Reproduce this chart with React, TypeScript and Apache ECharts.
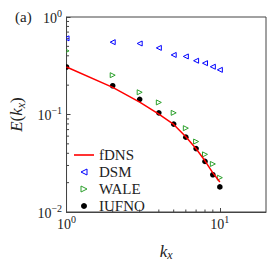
import React, { useEffect, useRef } from 'react';
import * as echarts from 'echarts';

// wavenumbers
const kx = [1, 2, 3, 4, 5, 6, 7, 8, 9, 10];
// spectra E(kx)
const fDNS = [0.307, 0.19, 0.134, 0.101, 0.079, 0.059, 0.0445, 0.0335, 0.0252, 0.0203];
const DSM = [0.604, 0.552, 0.535, 0.482, 0.408, 0.394, 0.356, 0.336, 0.309, 0.287];
const WALE = [0.449, 0.253, 0.169, 0.133, 0.104, 0.0724, 0.0528, 0.039, 0.0311, 0.0225];
const IUFNO = [0.307, 0.197, 0.143, 0.104, 0.0798, 0.0586, 0.0447, 0.033, 0.0241, 0.0181];
// minor tick values
const xMinorTicks = [2, 3, 4, 5, 6, 7, 8, 9];
const yMinorTicks = [0.02, 0.03, 0.04, 0.05, 0.06, 0.07, 0.08, 0.09, 0.2, 0.3, 0.4, 0.5, 0.6, 0.7, 0.8, 0.9];

const FONT = 'Liberation Serif';
const AXIS = '#444';
const RED = '#ff0000';
const BLUE = '#0000ff';
const GREEN = '#2ca02c';

const powLabel = (v: number) => {
  const e = Math.log10(v);
  const r = Math.round(e);
  if (Math.abs(e - r) > 1e-6) return '';
  return `{b|10}{s|${r < 0 ? '\u2212' + -r : r}}`;
};

const labelRich = {
  b: { fontFamily: FONT, fontSize: 14, color: '#222', padding: [2, 0, 0, 0] },
  s: { fontFamily: FONT, fontSize: 10, color: '#222', padding: [0, 0, 8, 0] },
};

const nameRich = {
  i: { fontFamily: FONT, fontSize: 17, fontStyle: 'italic', color: '#222' },
  n: { fontFamily: FONT, fontSize: 17, color: '#222' },
  s: { fontFamily: FONT, fontSize: 12, fontStyle: 'italic', color: '#222', padding: [8, 0, 0, 0] },
};

const markerSeries = (name: string, ys: number[], kind: 'left' | 'right' | 'dot', color: string) => ({
  type: 'custom',
  name,
  clip: true,
  coordinateSystem: 'cartesian2d',
  encode: { x: 0, y: 1 },
  itemStyle: { color },
  data: kx.map((k, i) => [k, ys[i]]),
  renderItem: (_p: any, api: any) => {
    const c = api.coord([api.value(0), api.value(1)]);
    const cx = c[0];
    const cy = c[1];
    if (kind === 'dot') {
      return { type: 'circle', shape: { cx, cy, r: 2.8 }, style: { fill: color } };
    }
    const h = 2.5;
    const d = kind === 'left' ? -1 : 1;
    return {
      type: 'polygon',
      shape: { points: [[cx + d * h, cy], [cx - d * h, cy - h], [cx - d * h, cy + h]] },
      style: { fill: 'none', stroke: color, lineWidth: 1 },
    };
  },
});

const tickSeries = (name: string, vals: number[], axis: 'x' | 'y') => ({
  type: 'custom',
  name,
  clip: false,
  silent: true,
  coordinateSystem: 'cartesian2d',
  encode: { x: 0, y: 1 },
  data: vals.map((v) => (axis === 'x' ? [v, 0.01] : [1, v])),
  renderItem: (_p: any, api: any) => {
    const c = api.coord([api.value(0), api.value(1)]);
    const shape =
      axis === 'x'
        ? { x1: c[0], y1: c[1], x2: c[0], y2: c[1] - 2.5 }
        : { x1: c[0], y1: c[1], x2: c[0] + 2.5, y2: c[1] };
    return { type: 'line', shape, style: { stroke: AXIS, lineWidth: 1 } };
  },
});

export default function App() {
  const ref = useRef<HTMLDivElement>(null);
  useEffect(() => {
    if (!ref.current) return;
    const chart = echarts.init(ref.current, undefined, { renderer: 'svg' });
    chart.setOption({
      animation: false,
      backgroundColor: '#fff',
      title: {
        text: '(a)',
        left: 10,
        top: 4,
        textStyle: { fontFamily: FONT, fontSize: 15, fontWeight: 'normal', color: '#222' },
      },
      grid: { left: 61, right: 6, top: 17, bottom: 45, show: true, borderColor: AXIS, borderWidth: 1, containLabel: false },
      legend: {
        orient: 'vertical',
        left: 69,
        top: 142,
        itemWidth: 20,
        itemHeight: 6,
        itemGap: 1,
        textStyle: { fontFamily: FONT, fontSize: 15, color: '#222', lineHeight: 16 },
        data: [
          {
            name: 'fDNS',
            icon: 'path://M0,0 L20,0 L20,1.6 L0,1.6 Z',
            itemStyle: { color: RED, borderWidth: 0 },
          },
          {
            name: 'DSM',
            icon: 'path://M10,0 L0,5 L10,10 Z',
            itemStyle: { color: 'rgba(0,0,0,0)', borderColor: BLUE, borderWidth: 1 },
          },
          {
            name: 'WALE',
            icon: 'path://M0,0 L10,5 L0,10 Z',
            itemStyle: { color: 'rgba(0,0,0,0)', borderColor: GREEN, borderWidth: 1 },
          },
          { name: 'IUFNO', icon: 'circle', itemStyle: { color: '#000', borderWidth: 0 } },
        ],
      },
      xAxis: {
        type: 'log',
        logBase: 10,
        min: 1,
        max: 20,
        name: '{i|k}{s|x}',
        nameLocation: 'middle',
        nameGap: 29,
        nameTextStyle: { rich: nameRich },
        axisLine: { show: true, lineStyle: { color: AXIS, width: 1 } },
        axisTick: { show: true, inside: true, length: 4, lineStyle: { color: AXIS } },
        axisLabel: { formatter: powLabel, rich: labelRich, margin: 2, showMaxLabel: false },
        splitLine: { show: false },
      },
      yAxis: {
        type: 'log',
        logBase: 10,
        min: 0.01,
        max: 1,
        name: '{i|E}{n|(}{i|k}{s|x}{n|)}',
        nameLocation: 'middle',
        nameGap: 38,
        nameTextStyle: { rich: nameRich },
        axisLine: { show: true, lineStyle: { color: AXIS, width: 1 } },
        axisTick: { show: true, inside: true, length: 4, lineStyle: { color: AXIS } },
        axisLabel: { formatter: powLabel, rich: labelRich, margin: 4.5 },
        splitLine: { show: false },
      },
      series: [
        tickSeries('xminor', xMinorTicks, 'x'),
        tickSeries('yminor', yMinorTicks, 'y'),
        {
          type: 'line',
          name: 'fDNS',
          data: kx.map((k, i) => [k, fDNS[i]]),
          symbol: 'none',
          showSymbol: false,
          lineStyle: { color: RED, width: 1.5 },
          itemStyle: { color: RED },
        },
        markerSeries('DSM', DSM, 'left', BLUE),
        markerSeries('WALE', WALE, 'right', GREEN),
        markerSeries('IUFNO', IUFNO, 'dot', '#000'),
      ],
    });
    return () => chart.dispose();
  }, []);
  return <div ref={ref} style={{ position: 'fixed', left: 0, top: 0, width: 272, height: 266 }} />;
}
